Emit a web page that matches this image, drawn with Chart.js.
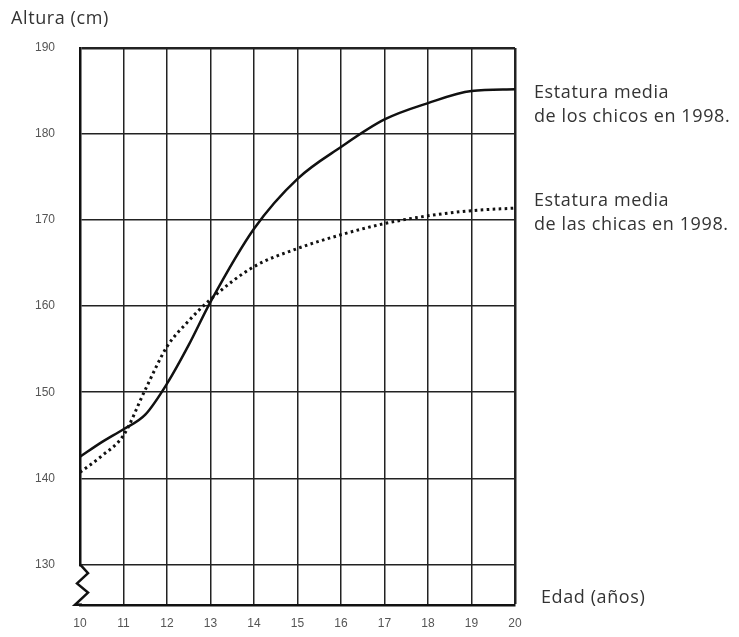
<!doctype html>
<html lang="es">
<head>
  <meta charset="utf-8">
  <title>Estatura media 1998</title>
  <style>
    * {
      margin: 0;
      padding: 0;
    }

    body {
      width: 739px;
      height: 637px;
      background: #fff;
      position: relative;
      overflow: hidden;
      font-family: "Open Sans", sans-serif;
      color: #333;
    }

    .chartBox {
      position: absolute;
      left: 0;
      top: 0;
      width: 739px;
      height: 637px;
    }

    .note {
      position: absolute;
      font-size: 18px;
      line-height: 24px;
      letter-spacing: 0.6px;
      white-space: nowrap;
    }
  </style>
</head>
<body>
<div class="chartBox">
  <canvas id="myChart" width="739" height="637"></canvas>
</div>
<div class="note" id="yTitle">Altura (cm)</div>
<div class="note" id="boysNote">Estatura media<br>de los chicos en 1998.</div>
<div class="note" id="girlsNote">Estatura media<br>de las chicas en 1998.</div>
<div class="note" id="xTitle">Edad (años)</div>

<script src="https://cdn.jsdelivr.net/npm/chart.js"></script>
<script>
  // data
  const ages = [10, 10.5, 11, 11.5, 12, 12.5, 13, 14, 15, 16, 17, 18, 19, 20];
  const boys = [142.5, 144.2, 145.7, 147.4, 151.0, 155.5, 160.5, 169.0, 174.8, 178.5, 181.7, 183.6, 185.0, 185.2];
  const girls = [140.7, 142.6, 145.0, 150.3, 155.3, 158.3, 160.8, 164.6, 166.7, 168.3, 169.6, 170.5, 171.1, 171.4];
  const xTicks = [10, 11, 12, 13, 14, 15, 16, 17, 18, 19, 20];
  const yTicks = [130, 140, 150, 160, 170, 180, 190];
  const yMin = 125.3;

  const toPoints = (arr) => ages.map((a, i) => ({x: a, y: arr[i]}));

  // border gap + zigzag on the broken axis, and placing of the notes
  const axisBreak = {
    id: 'axisBreak',
    afterDraw(chart) {
      const ctx = chart.ctx;
      const area = chart.chartArea;
      const y = chart.scales.y;
      const top = y.getPixelForValue(130);
      const bot = area.bottom;
      const left = area.left;
      const h = bot - top;
      ctx.save();
      ctx.fillStyle = '#fff';
      ctx.fillRect(left - 3, top + 2, 5, h - 3);
      ctx.strokeStyle = '#111';
      ctx.lineWidth = 2.5;
      ctx.lineJoin = 'miter';
      ctx.beginPath();
      ctx.moveTo(left, top);
      ctx.lineTo(left + 8, top + h * 0.22);
      ctx.lineTo(left - 3, top + h * 0.47);
      ctx.lineTo(left + 8, top + h * 0.7);
      ctx.lineTo(left - 5, bot);
      ctx.lineTo(left + 2, bot);
      ctx.stroke();
      ctx.restore();

      const place = (id, px, py) => {
        const el = document.getElementById(id);
        el.style.left = px + 'px';
        el.style.top = py + 'px';
      };
      place('yTitle', 11, 5);
      place('boysNote', area.right + 19, y.getPixelForValue(boys[boys.length - 1]) - 10);
      place('girlsNote', area.right + 19, y.getPixelForValue(girls[girls.length - 1]) - 21);
      place('xTitle', area.right + 26, area.bottom - 21);
    }
  };

  const data = {
    datasets: [{
      label: 'chicos',
      data: toPoints(boys),
      borderColor: '#111',
      borderWidth: 2.5,
      pointRadius: 0,
      cubicInterpolationMode: 'monotone',
      fill: false
    },
      {
        label: 'chicas',
        data: toPoints(girls),
        borderColor: '#111',
        borderWidth: 3,
        borderDash: [2.6, 3.4],
        pointRadius: 0,
        cubicInterpolationMode: 'monotone',
        fill: false
      }]
  };

  const edgeWidth = (val, edge) => val === edge ? 2.5 : 1.5;

  const config = {
    type: 'line',
    data,
    options: {
      responsive: false,
      animation: false,
      layout: {
        padding: {left: 10, right: 224, top: 48, bottom: -9}
      },
      plugins: {
        legend: {display: false},
        tooltip: {enabled: false}
      },
      scales: {
        x: {
          type: 'linear',
          min: 10,
          max: 20,
          afterBuildTicks: (scale) => {
            scale.ticks = xTicks.map(v => ({value: v}));
          },
          grid: {
            color: '#222',
            lineWidth: (c) => edgeWidth(c.tick && c.tick.value, 20),
            drawTicks: false
          },
          border: {color: '#111', width: 2.5},
          ticks: {
            padding: 12,
            color: '#555',
            font: {family: 'Liberation Sans', size: 12},
            maxRotation: 0
          }
        },
        y: {
          type: 'linear',
          min: yMin,
          max: 190,
          afterBuildTicks: (scale) => {
            scale.ticks = yTicks.map(v => ({value: v}));
          },
          grid: {
            color: '#222',
            lineWidth: (c) => edgeWidth(c.tick && c.tick.value, 190),
            drawTicks: false
          },
          border: {color: '#111', width: 2.5},
          ticks: {
            padding: 25,
            color: '#555',
            font: {family: 'Liberation Sans', size: 12}
          }
        }
      }
    },
    plugins: [axisBreak]
  };

  const myChart = new Chart(document.getElementById('myChart'), config);
</script>
</body>
</html>
